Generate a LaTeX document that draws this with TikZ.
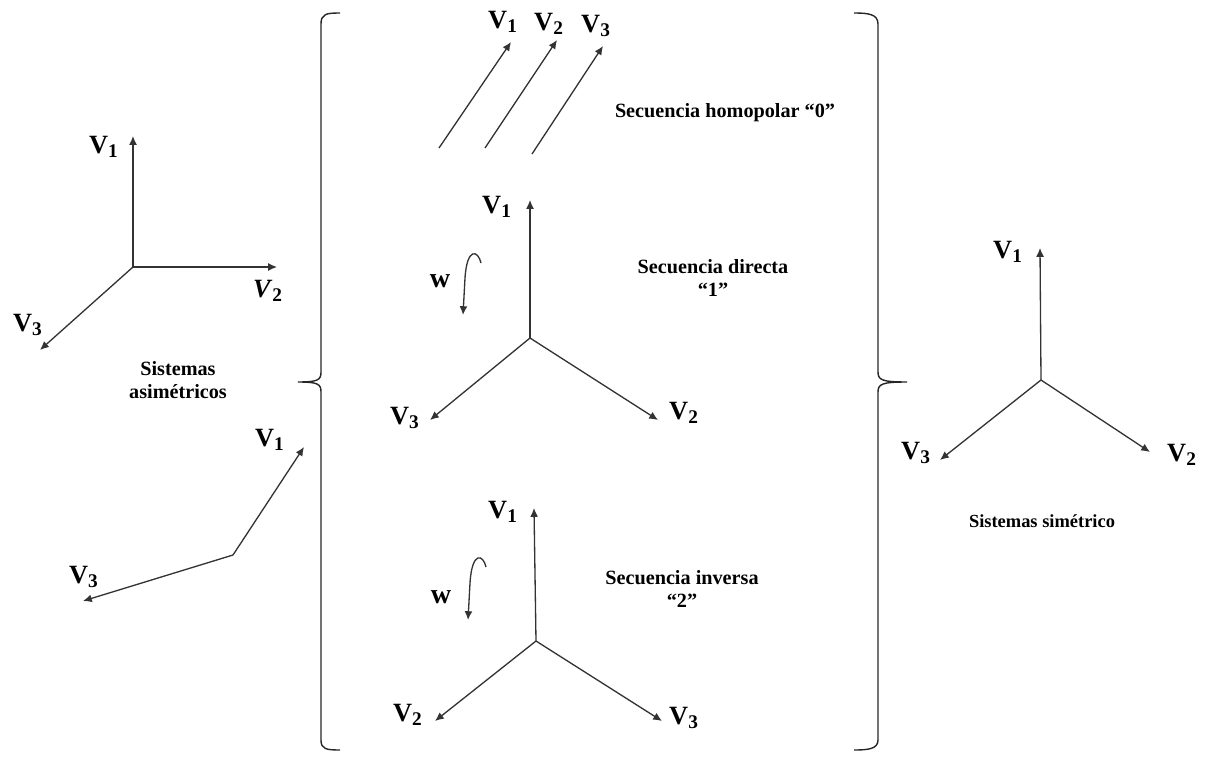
\documentclass[tikz,border=0pt]{standalone}
\usepackage{fontspec}
\setmainfont{Liberation Serif}
\usetikzlibrary{arrows.meta}
\tikzset{
  vec/.style={draw=black!80, line width=0.75pt, -{Latex[length=5pt,width=4.5pt]}},
  brk/.style={draw=black!85, line width=0.8pt},
  vlab/.style={inner sep=0pt, font=\fontsize{15}{16}\selectfont\bfseries},
  txt/.style={inner sep=0pt, align=center, font=\fontsize{11.5}{13}\selectfont\bfseries},
  wlab/.style={inner sep=0pt, font=\fontsize{16}{17}\selectfont\bfseries},
}
\newcommand{\vsub}[2]{V\textsubscript{\fontsize{11}{12}\selectfont\bfseries #2}}
\begin{document}
\begin{tikzpicture}[x=0.02cm,y=-0.02cm]
\useasboundingbox (0,0) rectangle (1207,764);
% ---------- top-left asymmetric system
\coordinate (oA) at (133,267);
\coordinate (a1) at (133,136);
\coordinate (a2) at (277,267);
\coordinate (a3) at (40,350);
\draw[vec] (oA) -- (a1);
\draw[vec] (oA) -- (a2);
\draw[vec] (oA) -- (a3);
\node[vlab] (la1) at (104,147) {\vsub{V}{1}};
\node[vlab] (la2) at (268,291) {\textit{V}\textsubscript{\fontsize{11}{12}\selectfont\bfseries 2}};
\node[vlab] (la3) at (28,325) {\vsub{V}{3}};
\node[txt] (tasim) at (178,380) {Sistemas\\asimétricos};
% ---------- bottom-left
\coordinate (oB) at (233,555);
\coordinate (b1) at (304,447);
\coordinate (b3) at (83,601);
\draw[vec] (oB) -- (b1);
\draw[vec] (oB) -- (b3);
\node[vlab] (lb1) at (270,440) {\vsub{V}{1}};
\node[vlab] (lb3) at (84,577) {\vsub{V}{3}};
% ---------- left bracket
\draw[brk] (340,13) .. controls (326,13) and (321,14) .. (321,24)
  -- (321,372) .. controls (321,380) and (318,382) .. (298,382)
  .. controls (318,382) and (321,384) .. (321,392)
  -- (321,740) .. controls (321,749) and (326,750) .. (340,750);
% ---------- right bracket
\draw[brk] (854,13) .. controls (868,13) and (878,14) .. (878,24)
  -- (878,372) .. controls (878,380) and (882,382) .. (907,382)
  .. controls (882,382) and (878,384) .. (878,392)
  -- (878,740) .. controls (878,749) and (868,750) .. (854,750);
% ---------- homopolar
\coordinate (h1s) at (439,148); \coordinate (h1e) at (511,42);
\coordinate (h2s) at (485,148); \coordinate (h2e) at (557,40);
\coordinate (h3s) at (532,154); \coordinate (h3e) at (603,46);
\draw[vec] (h1s) -- (h1e);
\draw[vec] (h2s) -- (h2e);
\draw[vec] (h3s) -- (h3e);
\node[vlab] (lh1) at (503,22) {\vsub{V}{1}};
\node[vlab] (lh2) at (549,24) {\vsub{V}{2}};
\node[vlab] (lh3) at (596,26) {\vsub{V}{3}};
\node[txt] (thomo) at (725,113) {Secuencia homopolar “0”};
% ---------- direct sequence
\coordinate (oD) at (530,338);
\coordinate (d1) at (530,200);
\coordinate (d2) at (658,420);
\coordinate (d3) at (430,420);
\draw[vec] (oD) -- (d1);
\draw[vec] (oD) -- (d2);
\draw[vec] (oD) -- (d3);
\node[vlab] (ld1) at (497,207) {\vsub{V}{1}};
\node[vlab] (ld2) at (684,413) {\vsub{V}{2}};
\node[vlab] (ld3) at (405,418) {\vsub{V}{3}};
\node[wlab] (wd) at (440,281) {w};
\coordinate (wds) at (481,263);
\coordinate (wde) at (463,315);
\draw[vec] (wds) .. controls (478,250) and (467,247) .. (465,278) -- (wde);
\node[txt] (tdir) at (713,278) {Secuencia directa\\“1”};
% ---------- inverse sequence
\coordinate (oI) at (536,641);
\coordinate (i1) at (534,508);
\coordinate (i2) at (435,721);
\coordinate (i3) at (662,721);
\draw[vec] (oI) -- (i1);
\draw[vec] (oI) -- (i2);
\draw[vec] (oI) -- (i3);
\node[vlab] (li1) at (503,512) {\vsub{V}{1}};
\node[vlab] (li2) at (408,715) {\vsub{V}{2}};
\node[vlab] (li3) at (684,718) {\vsub{V}{3}};
\node[wlab] (wi) at (441,597) {w};
\coordinate (wis) at (486,567);
\coordinate (wie) at (468,620);
\draw[vec] (wis) .. controls (483,554) and (472,551) .. (470,583) -- (wie);
\node[txt] (tinv) at (682,589) {Secuencia inversa\\“2”};
% ---------- symmetric system
\coordinate (oS) at (1041,380);
\coordinate (s1) at (1040,248);
\coordinate (s2) at (1150,452);
\coordinate (s3) at (940,460);
\draw[vec] (oS) -- (s1);
\draw[vec] (oS) -- (s2);
\draw[vec] (oS) -- (s3);
\node[vlab] (ls1) at (1008,252) {\vsub{V}{1}};
\node[vlab] (ls2) at (1182,455) {\vsub{V}{2}};
\node[vlab] (ls3) at (916,453) {\vsub{V}{3}};
\node[txt, font=\fontsize{10.5}{12}\selectfont\bfseries] (tsim) at (1042,521) {Sistemas simétrico};
\end{tikzpicture}
\end{document}
